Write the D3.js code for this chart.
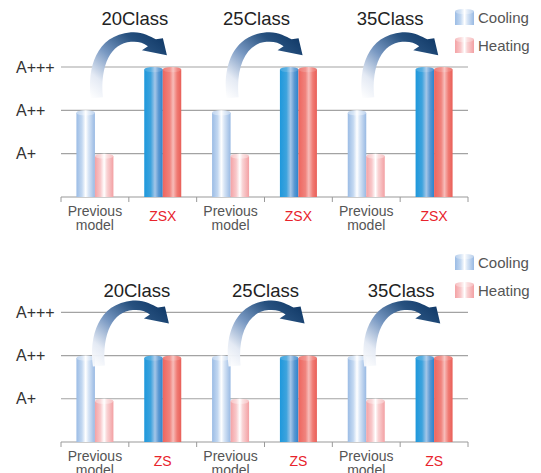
<!DOCTYPE html>
<html>
<head>
<meta charset="utf-8">
<script src="https://cdn.jsdelivr.net/npm/d3@7"></script>
<style>
  html, body { margin: 0; padding: 0; background: #fff; }
  svg { display: block; font-family: "Liberation Sans", Arial, sans-serif; }
</style>
</head>
<body>
<svg id="chart" width="541" height="473"></svg>
<script>
// ---- data ----
const classNames = ["20Class", "25Class", "35Class"];
const ratingLabels = ["A+", "A++", "A+++"];
const seriesNames = ["Cooling", "Heating"];

const categoriesTop = ["Previous model", "ZSX", "Previous model", "ZSX", "Previous model", "ZSX"];
const coolingTop = [2, 3, 2, 3, 2, 3];
const heatingTop = [1, 3, 1, 3, 1, 3];

const categoriesBottom = ["Previous model", "ZS", "Previous model", "ZS", "Previous model", "ZS"];
const coolingBottom = [2, 2, 2, 2, 2, 2];
const heatingBottom = [1, 2, 1, 2, 1, 2];

// ---- layout ----
const svg = d3.select("#chart"),
      defs = svg.append("defs"),
      plotLeft = 61,
      plotRight = 468,
      groupWidth = 37;

const panels = [
  { cats: categoriesTop, cool: coolingTop, heat: heatingTop,
    yMax: 67, yBase: 197, titleY: 25, titleDx: [6, -8, -10],
    legendY: 9, tailDy: -12, tailDx: 3 },
  { cats: categoriesBottom, cool: coolingBottom, heat: heatingBottom,
    yMax: 312.3, yBase: 442, titleY: 297, titleDx: [8, 1, 1],
    legendY: 254, tailDy: 11, tailDx: 5 }
];

// cylinder gradients
function hGrad(id, stops) {
  const g = defs.append("linearGradient").attr("id", id)
      .attr("x1", 0).attr("x2", 1).attr("y1", 0).attr("y2", 0);
  stops.forEach(s => g.append("stop").attr("offset", s[0]).attr("stop-color", s[1]));
}
hGrad("oldCool", [[0, "#9bbce5"], [0.3, "#c3d8f1"], [0.5, "#ffffff"], [0.65, "#d9e6f6"], [1, "#98b9e3"]]);
hGrad("oldHeat", [[0, "#f4a2a5"], [0.3, "#f8c8ca"], [0.5, "#ffffff"], [0.65, "#f9d3d4"], [1, "#f3a0a3"]]);
hGrad("newCool", [[0, "#1e98dc"], [0.35, "#3da3dd"], [0.58, "#a4c6e8"], [0.78, "#5b98d2"], [1, "#2b84cd"]]);
hGrad("newHeat", [[0, "#ee655e"], [0.38, "#f0837d"], [0.56, "#f7bcb9"], [0.78, "#f07a73"], [1, "#e95f58"]]);

const ag = defs.append("linearGradient").attr("id", "arrowGrad")
    .attr("x1", 0).attr("y1", 1).attr("x2", 1).attr("y2", 0);
[[0, "#ffffff", 0.9], [0.2, "#e4eaf4", 1], [0.45, "#7898c2", 1], [0.72, "#27517f", 1], [1, "#0a3260", 1]]
  .forEach(s => ag.append("stop").attr("offset", s[0]).attr("stop-color", s[1]).attr("stop-opacity", s[2]));

// curved arrow, drawn relative to its tail
function arrowPath(tx, ty) {
  const p = d3.path();
  const P = (x, y) => [tx + x, ty + y];
  p.moveTo(...P(-7, 0));
  p.bezierCurveTo(...P(-11, -30), ...P(-2, -63), ...P(33, -66));
  p.bezierCurveTo(...P(44, -67), ...P(52, -62), ...P(58, -59));
  p.lineTo(...P(65, -60));
  p.lineTo(...P(69, -43));
  p.lineTo(...P(44, -48));
  p.lineTo(...P(50, -52));
  p.bezierCurveTo(...P(45, -56), ...P(40, -57), ...P(33, -56.5));
  p.bezierCurveTo(...P(13, -55), ...P(2, -33), ...P(5, -1));
  p.closePath();
  return p.toString();
}

function cylinder(g, x, w, yTop, yBottom, grad, capOpacity) {
  const ry = 2.6;
  g.append("rect").attr("x", x).attr("y", yTop + ry).attr("width", w)
    .attr("height", Math.max(0, yBottom - yTop - ry)).attr("fill", `url(#${grad})`);
  g.append("ellipse").attr("cx", x + w / 2).attr("cy", yTop + ry).attr("rx", w / 2).attr("ry", ry)
    .attr("fill", `url(#${grad})`);
  g.append("ellipse").attr("cx", x + w / 2).attr("cy", yTop + ry).attr("rx", w / 2).attr("ry", ry)
    .attr("fill", "#fff").attr("opacity", capOpacity);
}

panels.forEach(pn => {
  const g = svg.append("g");
  const idx = d3.range(pn.cats.length);

  const x = d3.scaleBand().domain(idx).range([plotLeft, plotRight]).padding(0);
  const bw = x.bandwidth();
  const xs = d3.scaleBand().domain(seriesNames)
      .range([bw / 2 - groupWidth / 2, bw / 2 + groupWidth / 2]).padding(0);
  const y = d3.scaleLinear().domain([0, 3]).range([pn.yBase, pn.yMax]);

  // gridlines
  g.append("g").selectAll("line").data([1, 2, 3]).join("line")
    .attr("x1", plotLeft).attr("x2", plotRight)
    .attr("y1", d => y(d)).attr("y2", d => y(d))
    .attr("stroke", "#a3a3a3").attr("stroke-width", 1.2);

  // y labels
  g.append("g").selectAll("text").data([1, 2, 3]).join("text")
    .attr("x", 16).attr("y", d => y(d) + 5.5)
    .attr("font-size", 16).attr("fill", "#333")
    .text(d => ratingLabels[d - 1]);

  // baseline with ticks at band edges
  const axis = g.append("g").attr("transform", `translate(0,${pn.yBase})`)
    .call(d3.axisBottom(x).tickValues([]).tickSizeOuter(0));
  axis.select(".domain").remove();
  axis.append("line").attr("x1", plotLeft).attr("x2", plotRight)
    .attr("stroke", "#9a9a9a").attr("stroke-width", 1.2);
  axis.selectAll(".edge").data(d3.range(pn.cats.length + 1)).join("line")
    .attr("x1", i => plotLeft + i * bw).attr("x2", i => plotLeft + i * bw)
    .attr("y1", 0).attr("y2", 5).attr("stroke", "#9a9a9a");

  // bars
  idx.forEach(i => {
    const isNew = i % 2 === 1;
    const x0 = x(i);
    cylinder(g, x0 + xs("Cooling"), xs.bandwidth(), y(pn.cool[i]), pn.yBase,
      isNew ? "newCool" : "oldCool", isNew ? 0.15 : 0.35);
    cylinder(g, x0 + xs("Heating"), xs.bandwidth(), y(pn.heat[i]), pn.yBase,
      isNew ? "newHeat" : "oldHeat", isNew ? 0.15 : 0.35);

    // category labels
    const cx = x0 + bw / 2;
    if (isNew) {
      g.append("text").attr("x", cx).attr("y", pn.yBase + 24)
        .attr("text-anchor", "middle").attr("font-size", 14).attr("fill", "#e8232c")
        .text(pn.cats[i]);
    } else {
      const words = pn.cats[i].split(" ");
      const t = g.append("text").attr("text-anchor", "middle")
        .attr("font-size", 14).attr("fill", "#555");
      words.forEach((w, k) => {
        t.append("tspan").attr("x", cx).attr("y", pn.yBase + 18.5 + k * 14).text(w);
      });
    }
  });

  // class titles and arrows
  classNames.forEach((c, k) => {
    const prev = 2 * k;
    const edge = x(prev) + bw;
    g.append("text").attr("x", edge + pn.titleDx[k]).attr("y", pn.titleY)
      .attr("text-anchor", "middle").attr("font-size", 18.5).attr("fill", "#222")
      .text(c);
    g.append("path")
      .attr("d", arrowPath(x(prev) + bw / 2 + pn.tailDx, y(pn.cool[prev]) + pn.tailDy))
      .attr("fill", "url(#arrowGrad)");
  });

  // legend
  const lg = g.append("g").attr("transform", `translate(455,${pn.legendY})`);
  seriesNames.forEach((s, k) => {
    const row = lg.append("g").attr("transform", `translate(0,${k * 28})`);
    cylinder(row, 0, 19, 0, 16, s === "Cooling" ? "oldCool" : "oldHeat", 0.3);
    row.append("text").attr("x", 23).attr("y", 14).attr("font-size", 15).attr("fill", "#555").text(s);
  });
});
</script>
</body>
</html>
